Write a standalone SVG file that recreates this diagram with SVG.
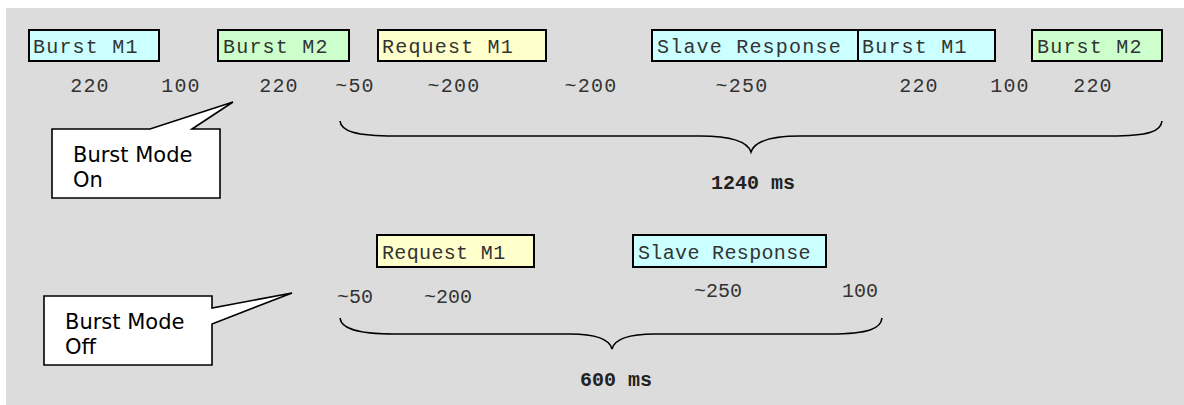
<svg xmlns="http://www.w3.org/2000/svg" width="1184" height="405" viewBox="0 0 1184 405">
<style>
.bg{fill:#dcdcdc}
.box{stroke:#000;stroke-width:2}
.c{fill:#ccffff}.g{fill:#ccffcc}.y{fill:#ffffcc}
.bt{font-family:"Liberation Mono","Courier New",monospace;font-size:20px;fill:#333;letter-spacing:1.2px}
.bt2{font-family:"Liberation Mono","Courier New",monospace;font-size:20px;fill:#333;letter-spacing:0.35px}
.num{font-family:"Liberation Mono","Courier New",monospace;font-size:20px;fill:#333;letter-spacing:1.2px;text-anchor:middle}
.num2{font-family:"Liberation Mono","Courier New",monospace;font-size:20px;fill:#333;text-anchor:middle}
.tot{font-family:"Liberation Mono","Courier New",monospace;font-size:20px;font-weight:bold;fill:#222;text-anchor:middle}
.brace{fill:none;stroke:#000;stroke-width:1.6}
.call{fill:#fff;stroke:#000;stroke-width:1.6;stroke-linejoin:miter}
.ct{font-family:Verdana,"DejaVu Sans",sans-serif;font-size:21px;fill:#000}
</style>
<rect class="bg" x="6" y="8" width="1178" height="397"/>
<g id="row1-burst-m1"><rect class="box c" x="29" y="30" width="130" height="31"/><text class="bt" x="33" y="53">Burst M1</text></g>
<g id="row1-burst-m2"><rect class="box g" x="218" y="30" width="131" height="31"/><text class="bt" x="223" y="53">Burst M2</text></g>
<g id="row1-request-m1"><rect class="box y" x="378" y="30" width="168" height="31"/><text class="bt" x="382" y="53">Request M1</text></g>
<g id="row1-slave-response"><rect class="box c" x="652" y="30" width="206" height="31"/><text class="bt" x="657" y="53">Slave Response</text></g>
<g id="row1-burst-m1-b"><rect class="box c" x="858" y="30" width="137" height="31"/><text class="bt" x="862" y="53">Burst M1</text></g>
<g id="row1-burst-m2-b"><rect class="box g" x="1032" y="30" width="130" height="31"/><text class="bt" x="1037" y="53">Burst M2</text></g>
<g id="row1-numbers">
<text class="num" x="90" y="92">220</text>
<text class="num" x="181" y="92">100</text>
<text class="num" x="279" y="92">220</text>
<text class="num" x="355" y="92">~50</text>
<text class="num" x="454" y="92">~200</text>
<text class="num" x="591" y="92">~200</text>
<text class="num" x="742" y="92">~250</text>
<text class="num" x="919" y="92">220</text>
<text class="num" x="1010" y="92">100</text>
<text class="num" x="1093" y="92">220</text>
</g>
<g id="row2-request-m1"><rect class="box y" x="377" y="235" width="157" height="32"/><text class="bt2" x="382" y="259">Request M1</text></g>
<g id="row2-slave-response"><rect class="box c" x="633" y="235" width="193" height="32"/><text class="bt2" x="638" y="259">Slave Response</text></g>
<g id="row2-numbers">
<text class="num2" x="355" y="303">~50</text>
<text class="num2" x="448" y="303">~200</text>
<text class="num2" x="718" y="297">~250</text>
<text class="num2" x="860" y="297">100</text>
</g>
<g id="connectors">
<path class="brace" d="M340,121 C341,131 355,136 395,136 L700,136 C735,136 748,143 751,152 C754,143 767,136 800,136 L1110,136 C1150,136 1161,131 1162,121"/>
<path class="brace" d="M340,318 C341,328 355,334 395,334 L570,334 C600,334 610,341 612,349 C614,341 624,334 655,334 L830,334 C870,334 881,328 882,318"/>
</g>
<g id="total-1240"><text class="tot" x="753" y="189">1240 ms</text></g>
<g id="total-600"><text class="tot" x="616" y="386">600 ms</text></g>
<g id="callout-on">
<path class="call" d="M52,129 L150,129 L233,102 L192,129 L220,129 L220,198 L52,198 Z"/>
<text class="ct" x="73" y="162">Burst Mode</text>
<text class="ct" x="73" y="187">On</text>
</g>
<g id="callout-off">
<path class="call" d="M44,296 L212,296 L212,308 L292,293 L212,324 L212,365 L44,365 Z"/>
<text class="ct" x="65" y="329">Burst Mode</text>
<text class="ct" x="65" y="354">Off</text>
</g>
</svg>
